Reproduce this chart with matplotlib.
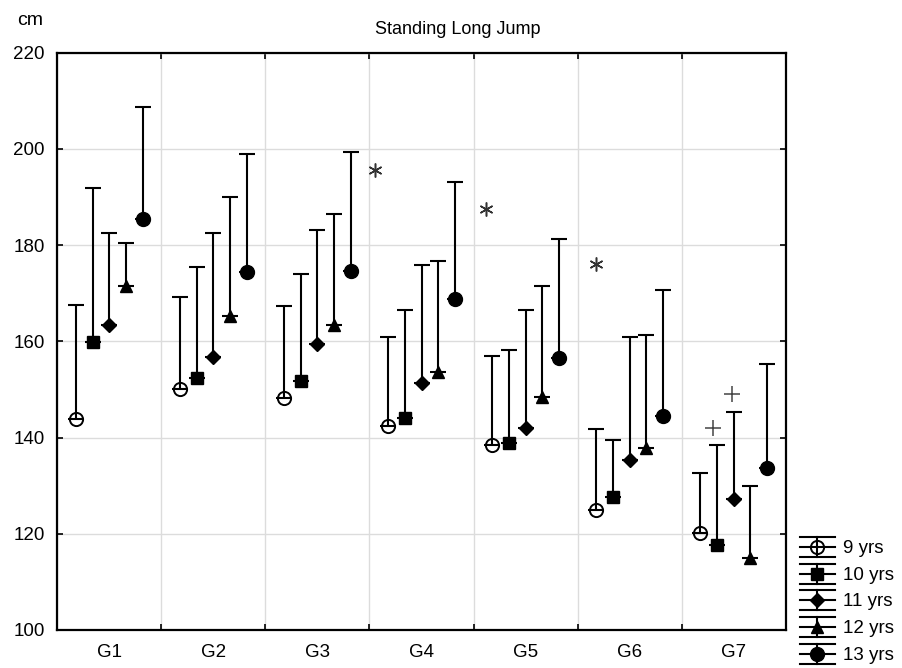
import matplotlib

matplotlib.use("Agg")
import matplotlib.pyplot as plt
import matplotlib.ticker as mticker
import numpy as np

plt.rcParams["font.family"] = ["Liberation Sans", "DejaVu Sans"]

groups = ["G1", "G2", "G3", "G4", "G5", "G6", "G7"]
ages = ["9 yrs", "10 yrs", "11 yrs", "12 yrs", "13 yrs"]

# group means (cm) per age
mean_9 = [143.8, 150.0, 148.3, 142.4, 138.5, 125.0, 120.1]
mean_10 = [159.9, 152.3, 151.8, 144.0, 138.9, 127.7, 117.7]
mean_11 = [163.5, 156.8, 159.4, 151.4, 141.9, 135.3, 127.2]
mean_12 = [171.6, 165.3, 163.3, 153.7, 148.5, 137.8, 115.0]
mean_13 = [185.5, 174.5, 174.6, 168.7, 156.6, 144.5, 133.6]

# mean + SD (top of whisker)
upper_9 = [167.6, 169.2, 167.3, 161.0, 157.0, 141.7, 132.6]
upper_10 = [191.8, 175.5, 174.0, 166.5, 158.3, 139.5, 138.5]
upper_11 = [182.6, 182.5, 183.1, 175.8, 166.5, 160.9, 145.4]
upper_12 = [180.4, 190.1, 186.5, 176.7, 171.6, 161.3, 130.0]
upper_13 = [208.8, 199.0, 199.4, 193.1, 181.3, 170.7, 155.3]

# significance marks
star_x = [3.05, 4.12, 5.18]
star_y = [195.6, 187.5, 176.1]
plus_x = [6.30, 6.48]
plus_y = [142.0, 149.1]

means = [mean_9, mean_10, mean_11, mean_12, mean_13]
uppers = [upper_9, upper_10, upper_11, upper_12, upper_13]
offsets = [-0.32, -0.16, 0.0, 0.16, 0.32]
styles = [
    dict(marker="o", ms=9.5, mfc="none", mew=1.4),
    dict(marker="s", ms=8, mfc="black", mew=1),
    dict(marker="D", ms=7, mfc="black", mew=1),
    dict(marker="^", ms=9, mfc="black", mew=1),
    dict(marker="o", ms=10, mfc="black", mew=1),
]

fig = plt.figure(figsize=(9.03, 6.68), dpi=100)
ax = fig.add_axes([0.0635, 0.0569, 0.8066, 0.8642])

xc = np.arange(len(groups)) + 0.5
for m, u, off, st in zip(means, uppers, offsets, styles):
    m = np.array(m)
    u = np.array(u)
    ax.errorbar(xc + off, m, yerr=[np.zeros_like(m), u - m], fmt="none",
                ecolor="black", elinewidth=1.5, capsize=6, capthick=1.5, zorder=3)
    ax.plot(xc + off, m, linestyle="none", color="black", zorder=4, **st)

ax.plot(star_x, star_y, linestyle="none", marker=(6, 2, 0), ms=10, color="#333333", mew=1.1)
ax.plot(plus_x, plus_y, linestyle="none", marker="+", ms=12, color="#444444", mew=1.1)

ax.set_xlim(0, len(groups))
ax.set_ylim(100, 220)
ax.xaxis.set_major_locator(mticker.MultipleLocator(1))
ax.xaxis.set_major_formatter(mticker.NullFormatter())
ax.xaxis.set_minor_locator(mticker.FixedLocator(xc))
ax.xaxis.set_minor_formatter(mticker.FixedFormatter(groups))
ax.yaxis.set_major_locator(mticker.MultipleLocator(20))
ax.tick_params(which="major", direction="in", top=True, right=True, length=4, width=1.2,
               labelsize=13.5)
ax.tick_params(which="minor", length=0, labelsize=13.5, pad=10)
ax.tick_params(axis="y", pad=9)
ax.grid(True, which="major", color="#dcdcdc", linewidth=1)
ax.set_axisbelow(True)
for s in ax.spines.values():
    s.set_linewidth(1.6)

fig.text(458 / 903, 1 - 33.5 / 668, "Standing Long Jump", ha="center", va="baseline", fontsize=13)
fig.text(30 / 903, 1 - 25 / 668, "cm", ha="center", va="baseline", fontsize=14)

# legend drawn in pixel-like coordinates
lax = fig.add_axes([795 / 903, 0, 108 / 903, 138 / 668])
lax.set_xlim(0, 108)
lax.set_ylim(138, 0)
lax.axis("off")
for i, (lab, st) in enumerate(zip(ages, styles)):
    c = 18.3 + 26.7 * i
    mc = c - 1.5
    lax.plot([5, 40], [mc - 10, mc - 10], color="black", lw=1.5)
    lax.plot([5, 40], [mc + 10, mc + 10], color="black", lw=1.5)
    lax.plot([5, 40], [mc, mc], color="black", lw=1.5)
    lax.plot([22.5, 22.5], [mc - 10, mc + 10], color="black", lw=1.5)
    lax.plot([22.5], [mc], linestyle="none", color="black", **st)
    lax.text(48, c, lab, ha="left", va="center", fontsize=13.5)

fig.savefig("out.png", dpi=100)
